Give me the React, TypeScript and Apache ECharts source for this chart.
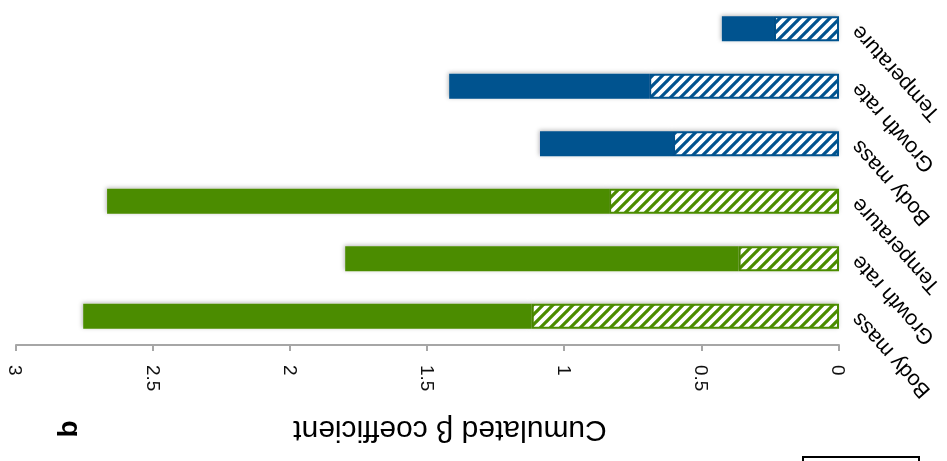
import React, { useEffect, useRef } from "react";
import * as echarts from "echarts";

const categories = ["Body mass", "Growth rate", "Temperature", "Body mass", "Growth rate", "Temperature"];
const groupOf = ["green", "green", "green", "blue", "blue", "blue"];
// hatched segment (from 0) and solid segment (stacked after it)
const hatchedValues = [1.12, 0.366, 0.838, 0.605, 0.692, 0.237];
const solidValues = [1.635, 1.434, 1.83, 0.485, 0.729, 0.19];
const axisTitle = "Cumulated β coefficient";
const panelLetter = "b";

const COLORS: Record<string, string> = { green: "#4C8C00", blue: "#03538F" };
const FONT = "'Liberation Sans', Arial, sans-serif";

function makeHatch(color: string) {
  const P = 10;
  const c = document.createElement("canvas");
  c.width = P;
  c.height = P;
  const ctx = c.getContext("2d")!;
  ctx.fillStyle = "#ffffff";
  ctx.fillRect(0, 0, P, P);
  ctx.strokeStyle = color;
  ctx.lineWidth = 3.2;
  ctx.lineCap = "square";
  for (const off of [-P, 0, P]) {
    ctx.beginPath();
    ctx.moveTo(off, P);
    ctx.lineTo(off + P, 0);
    ctx.stroke();
  }
  return { image: c, repeat: "repeat", imageWidth: P, imageHeight: P };
}

export default function App() {
  const ref = useRef<HTMLDivElement>(null);
  useEffect(() => {
    if (!ref.current) return;
    const chart = echarts.init(ref.current, undefined, { renderer: "svg" });
    const patterns: Record<string, any> = { green: makeHatch(COLORS.green), blue: makeHatch(COLORS.blue) };
    const shadow = { shadowBlur: 4, shadowColor: "rgba(0,0,0,0.28)", shadowOffsetX: 1, shadowOffsetY: 1 };
    chart.setOption({
      animation: false,
      textStyle: { fontFamily: FONT },
      grid: { left: 108, right: 16, top: 116, height: 350, containLabel: false },
      xAxis: {
        type: "value",
        position: "top",
        min: 0,
        max: 3,
        interval: 0.5,
        name: axisTitle,
        nameLocation: "middle",
        nameGap: 72,
        nameTextStyle: { fontSize: 30, color: "#000", fontFamily: FONT, padding: [0, 45, 0, 0] },
        axisLine: { show: true, lineStyle: { color: "#A6A6A6", width: 2 } },
        axisTick: { show: true, length: 6, lineStyle: { color: "#A6A6A6", width: 2 } },
        axisLabel: { rotate: -90, margin: 20, fontSize: 19, color: "#111", fontFamily: FONT },
        splitLine: { show: false },
      },
      yAxis: {
        type: "category",
        inverse: true,
        data: categories,
        axisLine: { show: false },
        axisTick: { show: false },
        axisLabel: { rotate: -48, margin: 16, fontSize: 21.5, color: "#000", fontFamily: FONT, interval: 0 },
      },
      series: [
        {
          type: "bar",
          stack: "total",
          barWidth: 25,
          data: hatchedValues.map((v, i) => ({
            value: v,
            itemStyle: {
              color: patterns[groupOf[i]],
              borderColor: COLORS[groupOf[i]],
              borderWidth: 2,
              ...shadow,
            },
          })),
        },
        {
          type: "bar",
          stack: "total",
          barWidth: 25,
          data: solidValues.map((v, i) => ({
            value: v,
            itemStyle: { color: COLORS[groupOf[i]], ...shadow },
          })),
        },
      ],
      graphic: [
        {
          type: "text",
          x: 879,
          y: 32,
          rotation: -Math.PI / 2,
          style: {
            text: panelLetter,
            font: `bold 28px ${FONT}`,
            fill: "#000",
            textAlign: "center",
            textVerticalAlign: "middle",
          },
        },
        {
          type: "rect",
          shape: { x: 28, y: -20, width: 116, height: 24 },
          style: { fill: "none", stroke: "#000", lineWidth: 2 },
        },
      ],
    });
    return () => chart.dispose();
  }, []);
  return (
    <div
      ref={ref}
      style={{
        position: "fixed",
        left: 0,
        top: 0,
        width: 947,
        height: 461,
        transform: "rotate(180deg)",
        background: "#fff",
      }}
    />
  );
}
